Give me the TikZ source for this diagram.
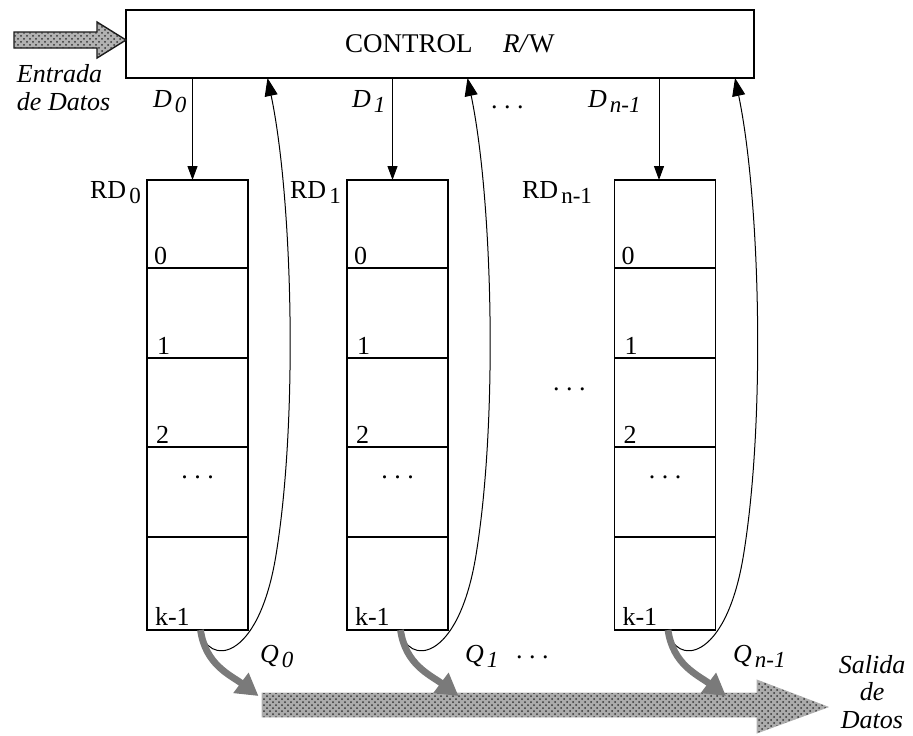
\documentclass[tikz,border=0pt]{standalone}
\usepackage{fontspec}
\setmainfont{Liberation Serif}
\usetikzlibrary{arrows.meta,calc,patterns}
% lowered index set a little smaller than the letter it follows
\newcommand{\lowidx}[1]{\kern1.6pt\raisebox{-0.45ex}{\fontsize{11.5}{12}\selectfont #1}}
\begin{document}
\begin{tikzpicture}[x=0.5pt,y=-0.5pt,
  every node/.style={inner sep=0pt,outer sep=0pt},
  txt/.style={font=\fontsize{13}{14}\selectfont,anchor=base west},
  itxt/.style={font=\fontsize{13}{14}\selectfont\itshape,anchor=base west},
  ctrlbox/.style={draw,line width=0.8pt,minimum width=314pt,minimum height=34pt},
  register/.style={draw,line width=0.6pt,minimum width=50.5pt,minimum height=225pt},
  divider/.style={line width=0.6pt},
  dline/.style={line width=0.5pt,-{Triangle[length=7pt,width=5pt]}},
  qline/.style={line width=0.5pt,-{Triangle[length=9pt,width=6.5pt]}},
  grayflow/.style={draw=black!52,line width=3.4pt,-{Triangle[length=11pt,width=12pt]}},
  bigflow/.style={fill=gray!66,draw=gray!60},
  grain/.style={pattern=crosshatch dots,pattern color=gray!40!black},
  inflow/.style={fill=gray!60,draw=gray!20!black,line width=0.7pt}
]
\useasboundingbox (0,0) rectangle (913,735);

% control unit
\node[ctrlbox] (ctrl) at (440,44) {};
\node[txt,font=\fontsize{13.5}{14}\selectfont] (ctrltxt) at (345,52) {CONTROL};
\node[txt,font=\fontsize{13.5}{14}\selectfont] (rwtxt) at (503,52) {\textit{R/}W};

% data input
\path[inflow] (14,32) -- (97,32) -- (97,22) -- (ctrl.west |- 0,40) -- (97,58) -- (97,48) -- (14,48) -- cycle;
\path[grain] (14,32) -- (97,32) -- (97,22) -- (ctrl.west |- 0,40) -- (97,58) -- (97,48) -- (14,48) -- cycle;
\node[align=left,anchor=north west,font=\fontsize{13}{14}\selectfont\itshape] (intxt) at (17,64) {Entrada\\de Datos};

% data output
\path[bigflow] (262,693) -- (757,693) -- (757,680) -- (828,707) -- (757,733) -- (757,717) -- (262,717) -- cycle;
\path[grain] (262,693) -- (757,693) -- (757,680) -- (828,707) -- (757,733) -- (757,717) -- (262,717) -- cycle;
\node[align=center,anchor=north,font=\fontsize{13}{13.75}\selectfont\itshape] (outtxt) at (872,655) {Salida\\de\\Datos};

% registers
\node[register] (r0) at (197.5,405) {};
\node[register] (r1) at (397.5,405) {};
\node[register] (r2) at (665,405) {};

\foreach \r in {r0,r1,r2}{
  \foreach \dy in {88,178,267,357}{
    \draw[divider] ($(\r.north west)+(0,\dy)$) -- ($(\r.north east)+(0,\dy)$);
  }
  \node[txt] at ($(\r.north west)+(7,84)$) {0};
  \node[txt] at ($(\r.north west)+(10,174)$) {1};
  \node[txt] at ($(\r.north west)+(9,263)$) {2};
  \node[txt,anchor=base] at ($(\r.north)+(0,298)$) {.\ .\ .};
  \node[txt] at ($(\r.north west)+(8,445)$) {k-1};
}

\node[txt] (rd0) at (90,198) {RD\lowidx{0}};
\node[txt] (rd1) at (290,198) {RD\lowidx{1}};
\node[txt] (rd2) at (522,198) {RD\lowidx{n-1}};
\node[txt] (middots) at (553,390) {.\ .\ .};

% write lines from the control unit
\coordinate (d0) at ($(r0.north)+(-5,0)$);
\coordinate (d1) at ($(r1.north)+(-5,0)$);
\coordinate (d2) at ($(r2.north)+(-6,0)$);
\draw[dline] (ctrl.south -| d0) -- (d0);
\draw[dline] (ctrl.south -| d1) -- (d1);
\draw[dline] (ctrl.south -| d2) -- (d2);
\node[itxt] (dl0) at (153,107) {D\lowidx{0}};
\node[itxt] (dl1) at (352,107) {D\lowidx{1}};
\node[txt] (ddots) at (491,108) {.\ .\ .};
\node[itxt] (dl2) at (588,107) {D\lowidx{n-1}};

% read-back lines and output flows
\foreach \r/\k in {r0/0,r1/1,r2/2}{
  \coordinate (s\k) at ($(\r.south)+(3,0)$);
  \coordinate (t\k) at ($(s\k)+(67,-552)$);
  \draw[qline] (s\k) .. controls ($(s\k)+(7,36)$) and ($(s\k)+(57,33)$) .. ($(s\k)+(75,-72)$)
     .. controls ($(s\k)+(98,-209)$) and ($(s\k)+(92,-432)$) .. (t\k);
  \draw[grayflow] (s\k) .. controls ($(s\k)+(5,35)$) and ($(s\k)+(30,45)$) .. ($(s\k)+(58,66)$);
}

\node[itxt] (ql0) at (260,662) {Q\lowidx{0}};
\node[itxt] (ql1) at (465,662) {Q\lowidx{1}};
\node[txt] (qdots) at (516,658) {.\ .\ .};
\node[itxt] (ql2) at (733,662) {Q\lowidx{n-1}};
\end{tikzpicture}
\end{document}
